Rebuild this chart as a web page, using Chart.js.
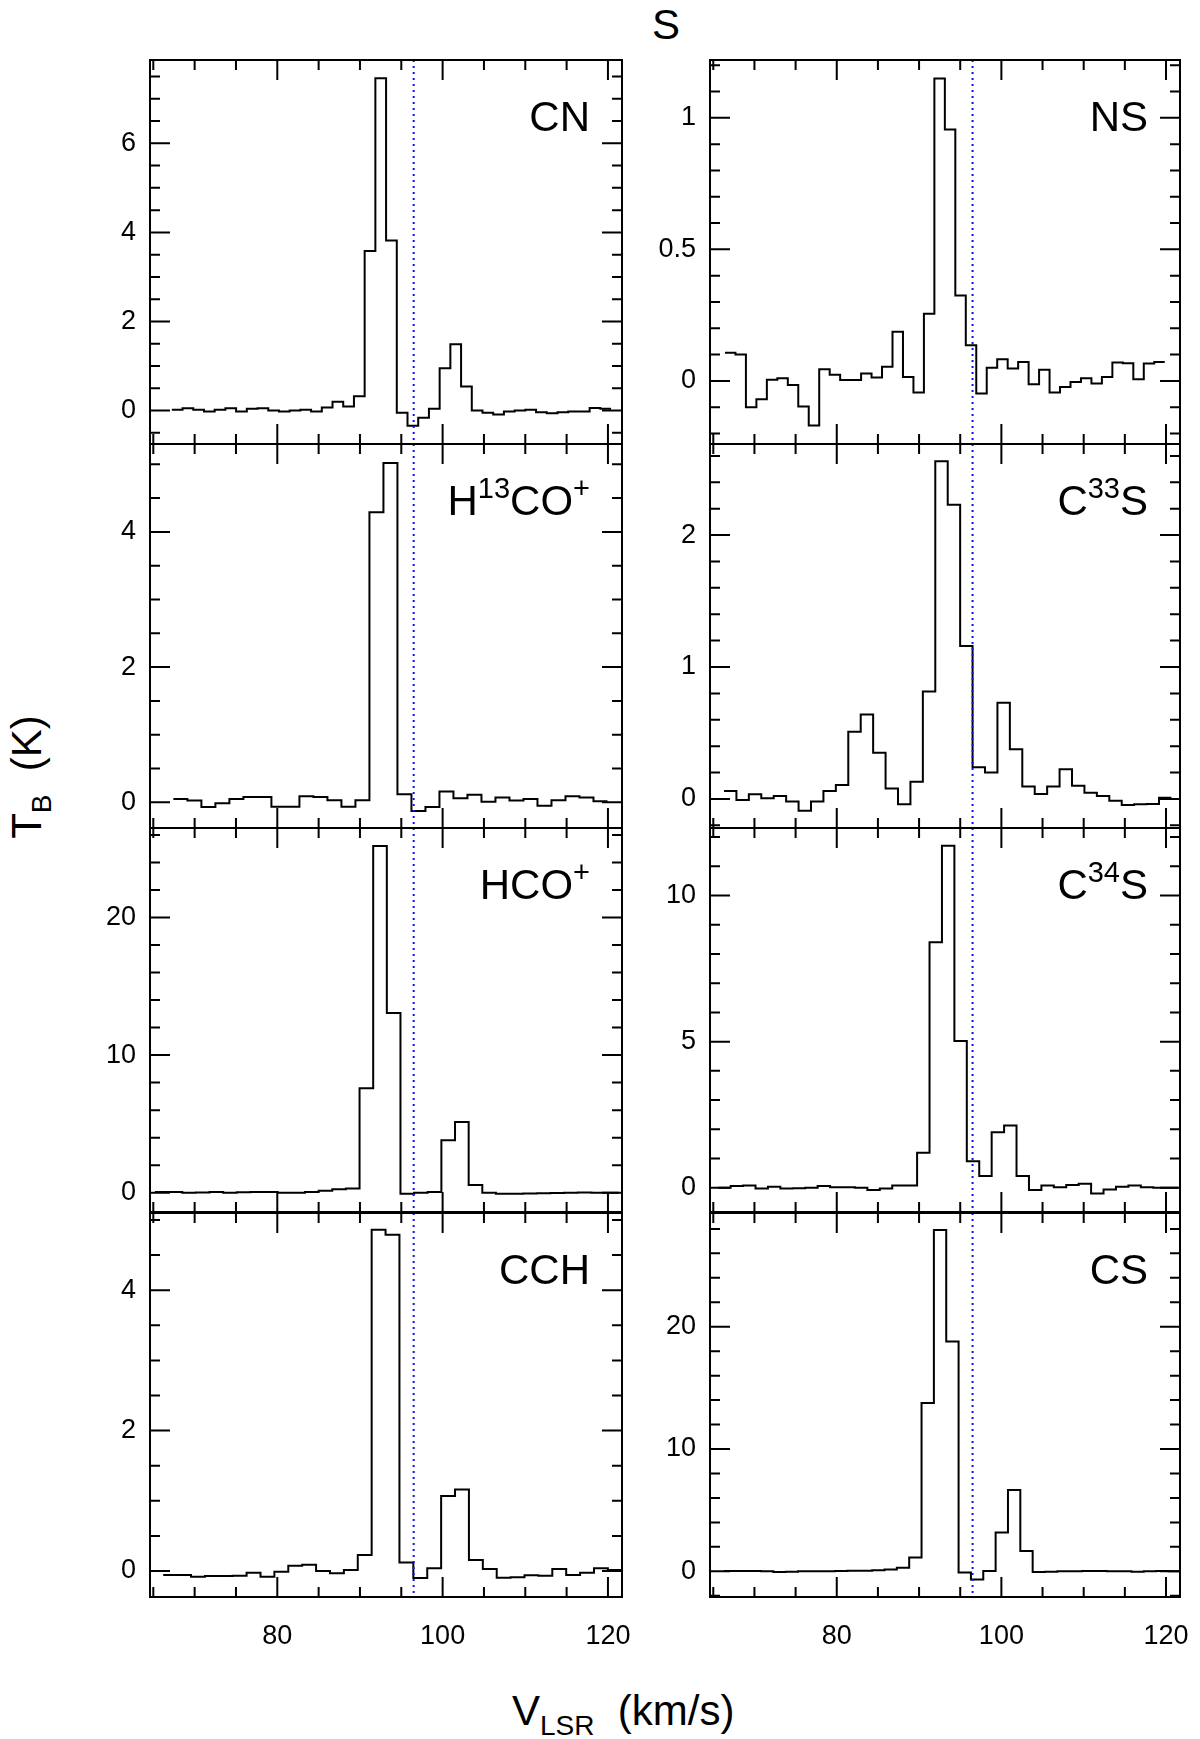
<!DOCTYPE html>
<html lang="en">
<head>
<meta charset="UTF-8">
<title>Spectra S</title>
<script src="https://cdn.jsdelivr.net/npm/chart.js"></script>
<style>
  body { margin: 0; background: #fff; width: 1200px; height: 1739px; position: relative; overflow: hidden;
         font-family: "Liberation Sans", "DejaVu Sans", sans-serif; color: #000; }
  canvas { position: absolute; }
  .lbl { position: absolute; font-size: 42px; line-height: 1; white-space: nowrap; text-align: right; }
  .lbl sup { font-size: 29px; vertical-align: 17px; line-height: 0; }
  .ttl { position: absolute; font-size: 42px; line-height: 1; white-space: nowrap; }
  .ttl sub { font-size: 28px; vertical-align: -10px; line-height: 0; }
</style>
</head>
<body>
<div class="ttl" style="left:652px; top:4px;">S</div>
<div class="ttl" style="left:27px; top:777px; transform: translate(-50%,-50%) rotate(-90deg);">T<sub>B</sub> &nbsp;(K)</div>
<div class="ttl" style="left:512px; top:1690px;">V<sub>LSR</sub> &nbsp;(km/s)</div>

<script>
  // channel grid (start edge, width in km/s) and brightness values
  const cnStart = 67.24, cnStep = 1.296;
  const cnVals = [0.02,0.05,0.02,-0.02,0.02,0.05,-0.02,0.04,0.05,0,-0.02,0,0.02,-0.02,0.07,0.2,0.09,0.32,3.58,7.46,3.82,-0.05,-0.34,-0.16,0.04,0.95,1.49,0.54,0,-0.05,-0.09,-0.02,0,0.02,-0.04,-0.06,-0.04,-0.02,-0.02,0.06,0.04];

  const nsStart = 66.42, nsStep = 1.272;
  const nsVals = [0.107,0.1,-0.1,-0.07,0.004,0.01,-0.016,-0.097,-0.17,0.044,0.023,0.003,0.003,0.028,0.013,0.054,0.187,0.015,-0.044,0.255,1.15,0.956,0.325,0.135,-0.048,0.05,0.082,0.047,0.072,-0.013,0.042,-0.044,-0.023,-0.004,0.01,-0.01,0.015,0.07,0.067,0.006,0.066,0.072];

  const h13Start = 67.43, h13Step = 1.694;
  const h13Vals = [0.05,0.025,-0.07,-0.015,0.05,0.08,0.08,-0.065,-0.065,0.09,0.08,0.03,-0.065,0.03,4.29,5.02,0.12,-0.13,-0.07,0.16,0.06,0.11,0.01,0.07,0.025,0.05,-0.05,0.03,0.09,0.07,0.015];

  const c33Start = 66.3, c33Step = 1.51;
  const c33Vals = [0.06,-0.008,0.035,0.005,0.023,-0.02,-0.09,-0.02,0.06,0.106,0.51,0.64,0.35,0.08,-0.04,0.13,0.815,2.56,2.23,1.16,0.24,0.2,0.73,0.377,0.094,0.038,0.094,0.225,0.1,0.048,0.023,-0.013,-0.045,-0.04,-0.038,0.01];

  const hcoStart = 65.2, hcoStep = 1.65;
  const hcoVals = [0.05,0.05,0,0.02,0.05,0,0.03,0.05,0.05,0,0,0.05,0.15,0.25,0.3,7.6,25.2,13.06,-0.07,0,0.05,3.82,5.13,0.56,0,-0.07,-0.07,-0.05,-0.03,-0.02,0,0.02,0,0];

  const c34Start = 65.6, c34Step = 1.51;
  const c34Vals = [0,0.06,0.08,-0.03,0.03,-0.03,-0.02,0,0.06,0.02,0.02,0,-0.08,-0.03,0.08,0.08,1.2,8.4,11.7,5.02,0.91,0.4,1.9,2.13,0.4,-0.08,0.08,0.02,0.09,0.14,-0.2,-0.06,0.03,0.08,0.02,0,0];

  const cchStart = 66.2, cchStep = 1.681;
  const cchVals = [-0.057,-0.057,-0.08,-0.07,-0.07,-0.067,-0.024,-0.08,-0.01,0.076,0.09,0,-0.033,0.014,0.23,4.86,4.79,0.12,-0.1,0.04,1.07,1.16,0.157,0.03,-0.095,-0.09,-0.06,-0.067,0.03,-0.057,-0.024,0.04,0.014];

  const csStart = 66.3, csStep = 1.5;
  const csVals = [0.03,0.03,0.03,0,-0.05,-0.03,0,0,0,0.03,0.05,0.05,0.08,0.14,0.3,1.12,13.76,27.9,18.8,-0.1,-0.66,0.03,3.17,6.65,1.67,-0.05,-0.03,0,0,0.03,0.03,0,0,-0.03,0,0.03,0,0];

  const vSys = 96.5;
  const xMin = 64.6, xMax = 121.7;
  const xMajor = 20, xMinor = 5;
  const xLabels = [80, 100, 120];

  const panels = [
    { name: 'CN', start: cnStart, step: cnStep, vals: cnVals, ymin: -0.75, ymax: 7.87, major: 2, minor: 0.5, col: 0, row: 0 },
    { name: 'NS', start: nsStart, step: nsStep, vals: nsVals, ymin: -0.24, ymax: 1.22, major: 0.5, minor: 0.1, col: 1, row: 0 },
    { name: 'H<sup>13</sup>CO<sup>+</sup>', start: h13Start, step: h13Step, vals: h13Vals, ymin: -0.38, ymax: 5.3, major: 2, minor: 0.5, col: 0, row: 1 },
    { name: 'C<sup>33</sup>S', start: c33Start, step: c33Step, vals: c33Vals, ymin: -0.22, ymax: 2.69, major: 1, minor: 0.2, col: 1, row: 1 },
    { name: 'HCO<sup>+</sup>', start: hcoStart, step: hcoStep, vals: hcoVals, ymin: -1.4, ymax: 26.5, major: 10, minor: 2, col: 0, row: 2 },
    { name: 'C<sup>34</sup>S', start: c34Start, step: c34Step, vals: c34Vals, ymin: -0.83, ymax: 12.31, major: 5, minor: 1, col: 1, row: 2 },
    { name: 'CCH', start: cchStart, step: cchStep, vals: cchVals, ymin: -0.37, ymax: 5.1, major: 2, minor: 0.5, col: 0, row: 3 },
    { name: 'CS', start: csStart, step: csStep, vals: csVals, ymin: -2.1, ymax: 29.3, major: 10, minor: 2, col: 1, row: 3 }
  ];

  // frame geometry
  const colLeft = [150, 710], colWidth = [472, 470];
  const rowTop = [60, 444, 828, 1213], rowH = 384;
  const axisW = 80, pad = 6, padR = 20, xAxisH = 60;

  const isMult = (v, m) => Math.abs(v / m - Math.round(v / m)) < 1e-6;

  // frame with inward ticks on all four sides, tick labels, and the blue v_sys line
  const framePlugin = {
    id: 'frame',
    afterDatasetsDraw(chart, args, opts) {
      const { ctx, chartArea: a } = chart;
      const xs = chart.scales.x, ys = chart.scales.y;
      const p = opts.panel;
      ctx.save();
      ctx.strokeStyle = '#1010ff';
      ctx.lineWidth = 2;
      ctx.setLineDash([2, 4]);
      const xv = xs.getPixelForValue(vSys);
      ctx.beginPath(); ctx.moveTo(xv, a.top); ctx.lineTo(xv, a.bottom); ctx.stroke();
      ctx.setLineDash([]);
      ctx.strokeStyle = '#000';
      ctx.lineWidth = 2;
      ctx.strokeRect(a.left, a.top, a.right - a.left, a.bottom - a.top);
      ctx.beginPath();
      for (let v = Math.ceil(xMin / xMinor) * xMinor; v <= xMax; v += xMinor) {
        const px = xs.getPixelForValue(v);
        const len = isMult(v, xMajor) ? 20 : 10;
        ctx.moveTo(px, a.bottom); ctx.lineTo(px, a.bottom - len);
        ctx.moveTo(px, a.top); ctx.lineTo(px, a.top + len);
      }
      const n0 = Math.ceil(p.ymin / p.minor - 1e-6), n1 = Math.floor(p.ymax / p.minor + 1e-6);
      ctx.fillStyle = '#000';
      ctx.font = '27px "Liberation Sans"';
      const yLabels = [];
      for (let k = n0; k <= n1; k++) {
        const v = k * p.minor;
        const py = ys.getPixelForValue(v);
        const maj = isMult(v, p.major);
        const len = maj ? 20 : 10;
        ctx.moveTo(a.left, py); ctx.lineTo(a.left + len, py);
        ctx.moveTo(a.right, py); ctx.lineTo(a.right - len, py);
        if (maj) yLabels.push([v, py]);
      }
      ctx.stroke();
      ctx.textAlign = 'right';
      ctx.textBaseline = 'middle';
      yLabels.forEach(([v, py]) => ctx.fillText(String(+v.toFixed(2)), a.left - 14, py));
      if (opts.bottom) {
        ctx.textAlign = 'center';
        ctx.textBaseline = 'middle';
        xLabels.forEach(v => ctx.fillText(String(v), xs.getPixelForValue(v), a.bottom + 40));
      }
      ctx.restore();
    }
  };

  panels.forEach(p => {
    const bottom = p.row === 3;
    const cv = document.createElement('canvas');
    const w = axisW + colWidth[p.col] + padR;
    const h = pad + rowH + (bottom ? xAxisH : pad);
    cv.width = w; cv.height = h;
    cv.style.left = (colLeft[p.col] - axisW) + 'px';
    cv.style.top = (rowTop[p.row] - pad) + 'px';
    document.body.appendChild(cv);

    // point i sits on the left edge of channel i; 'before' stepping holds its value to the next edge
    const pts = p.vals.map((y, i) => ({ x: p.start + i * p.step, y: y }));
    pts.push({ x: p.start + p.vals.length * p.step, y: p.vals[p.vals.length - 1] });

    new Chart(cv.getContext('2d'), {
      type: 'line',
      data: { datasets: [{ data: pts, stepped: 'before', borderColor: '#000', borderWidth: 2, pointRadius: 0, fill: false }] },
      options: {
        responsive: false, animation: false, devicePixelRatio: 1,
        layout: { padding: { top: pad, right: padR, bottom: bottom ? xAxisH : pad, left: axisW } },
        plugins: { legend: { display: false }, tooltip: { enabled: false }, frame: { panel: p, bottom: bottom } },
        scales: {
          x: { type: 'linear', min: xMin, max: xMax, display: false },
          y: { type: 'linear', min: p.ymin, max: p.ymax, display: false }
        }
      },
      plugins: [framePlugin]
    });

    const lbl = document.createElement('div');
    lbl.className = 'lbl';
    lbl.innerHTML = p.name;
    lbl.style.right = (1200 - (colLeft[p.col] + colWidth[p.col] - 32)) + 'px';
    lbl.style.top = (rowTop[p.row] + 36) + 'px';
    document.body.appendChild(lbl);
  });
</script>
</body>
</html>
